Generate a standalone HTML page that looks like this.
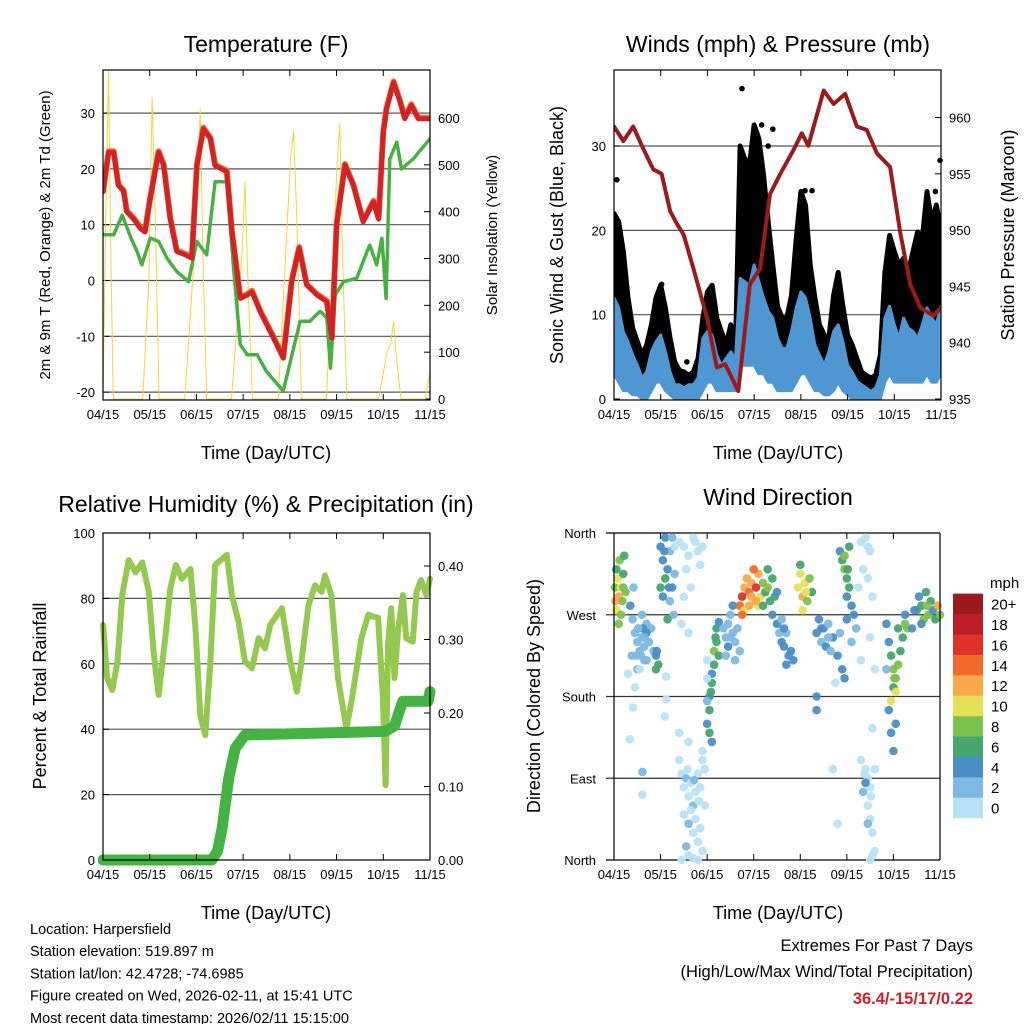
<!DOCTYPE html>
<html><head><meta charset="utf-8"><style>
body{margin:0;background:#fff;}
svg{display:block;font-family:"Liberation Sans",Arial,sans-serif;}
</style></head><body>
<svg id="c" width="1024" height="1024" viewBox="0 0 1024 1024" xmlns="http://www.w3.org/2000/svg">
<defs>
<clipPath id="cp1"><rect x="103" y="70" width="327" height="330"/></clipPath>
<clipPath id="cp2"><rect x="614" y="70" width="327" height="330"/></clipPath>
<clipPath id="cp3"><rect x="98" y="533" width="338" height="334"/></clipPath>
</defs>
</svg>
<script>
// ---------- DATA ----------
const monthLabels = ["04/15","05/15","06/15","07/15","08/15","09/15","10/15","11/15"];
// Temperature (F)
const tempT = [0,0.12,0.23,0.33,0.44,0.51,0.66,0.8,0.9,1.01,1.19,1.3,1.44,1.58,1.76,1.9,2.01,2.15,2.3,2.4,2.65,2.76,2.94,3.09,3.19,3.36,3.65,3.86,4.04,4.2,4.36,4.58,4.79,4.9,5.0,5.18,5.36,5.57,5.79,5.9,6.0,6.07,6.22,6.36,6.46,6.6,6.75,7];
const tempV = [15.9,23,23,17,16,12.3,11,9.3,8.7,14.7,23,20.6,11,5.2,4.6,4,20.6,27.2,25.4,20.6,19.5,8.7,-3.2,-2.6,-2,-5.5,-10.3,-13.9,-0.2,5.8,-0.8,-2.6,-3.8,-10.3,10,20.7,17,10.5,14.1,11,26.6,30.8,35.5,32,29,31.4,29,29];
const tdT = [0,0.23,0.41,0.6,0.73,0.83,1.01,1.19,1.37,1.58,1.83,2.01,2.22,2.4,2.65,2.79,2.94,3.09,3.3,3.5,3.86,4.08,4.22,4.43,4.65,4.79,4.87,4.97,5.15,5.43,5.71,5.86,5.97,6.06,6.14,6.29,6.39,6.64,7];
const tdV = [8.2,8.2,11.7,7.6,5.2,2.8,7.6,7,4,1.6,-0.2,7,4.6,17.7,17.7,2.8,-11.5,-13.3,-13.3,-16.3,-19.8,-12.1,-7.3,-7.3,-5.5,-6.7,-15.7,-2.6,-0.2,0.4,6.4,2.8,7.6,-3.2,21.8,24.8,20,21.8,25.4];
const solarT = [0,0.06,0.12,0.17,0.22,0.3,0.85,0.98,1.05,1.12,1.2,1.75,1.95,2.03,2.08,2.14,2.22,2.75,2.9,2.98,3.04,3.1,3.2,3.75,3.93,4.02,4.08,4.15,4.25,4.78,4.93,5.01,5.07,5.13,5.22,5.9,6.08,6.16,6.22,6.28,6.38,6.9,7];
const solarV = [0,400,700,300,0,0,0,250,642,380,0,0,300,450,620,300,0,0,200,320,464,260,0,0,350,520,571,380,0,0,300,500,588,300,0,0,100,120,165,90,0,0,60];
// Winds (mph) & pressure (mb)
const windT = [0,0.1,0.2,0.3,0.4,0.5,0.6,0.7,0.8,0.9,1.0,1.1,1.2,1.3,1.4,1.5,1.6,1.7,1.8,1.9,2.0,2.1,2.2,2.3,2.4,2.5,2.6,2.7,2.8,2.9,3.0,3.1,3.2,3.3,3.4,3.5,3.6,3.7,3.8,3.9,4.0,4.1,4.2,4.3,4.4,4.5,4.6,4.7,4.8,4.9,5.0,5.1,5.2,5.3,5.4,5.5,5.6,5.7,5.8,5.9,6.0,6.1,6.2,6.3,6.4,6.5,6.6,6.7,6.8,6.9,7.0];
const gustV = [22,21,17.5,12,8.4,6.8,5.2,6.4,8.8,12,13.5,10.8,7.2,4.4,3.4,3.2,2.8,3.2,4.8,9.6,12.7,13.5,9.6,8,6.4,8.8,6,30,28.5,27.7,32.5,30.9,26.6,21,15.9,11,9.6,9.6,12.3,19,24.6,23,15.9,12,8.8,7.6,7.2,12.3,15,11,7.6,6.4,4.8,3.2,2.8,2.5,2.8,5.2,15,19.4,17.5,15.9,16.7,15,17.5,19.8,19,24.6,21,23,20];
const windV = [12,10.8,8,6.8,5.2,4,2.5,3.2,5.6,6.8,7.6,5.6,3.2,1.7,1.7,1.3,1.7,1.7,2.5,7.2,8,7.6,5.2,4,4.8,5.6,4.8,14.3,13.9,13.5,15.9,13.9,12,10.4,9.6,7.2,6,6,8,10.8,12.7,12,9.6,6.4,5.2,4,5.6,8,8.8,6.8,4,3.2,2.1,1.7,1.3,0.9,1.3,2.8,9.6,11,8.8,7.2,9.6,8.4,8,7.2,8.8,10.8,9.6,8.8,11];
const windLowV = [3,2,1,1,0.5,0.5,0,0,1,2,2,1,0.5,0,0,0,0,0,0,1,2,2,1,1,1,1,1,4,4,4,4,3,3,2,2,1,1,1,1,2,3,3,2,1,1,0.5,0.5,1,2,1,0.5,0,0,0,0,0,0,0,2,3,2,2,2,2,2,2,2,3,2,2,3];
const gustOutT = [0.06,2.74,3.16,4.09,4.24,6.88,6.98,1.02,1.56,3.4,3.3];
const gustOutV = [26,36.8,32.5,24.7,24.7,24.6,28.3,13.6,4.4,32,30];
const presT = [0,0.2,0.41,0.63,0.84,1.02,1.2,1.34,1.49,1.7,1.99,2.2,2.38,2.66,2.91,3.13,3.34,3.56,3.84,4.02,4.16,4.49,4.7,4.95,5.2,5.41,5.63,5.91,6.13,6.34,6.56,6.84,7];
const presV = [959.2,957.9,959.2,957.2,955.4,955.0,951.7,950.6,949.6,946.6,942.2,937.8,938.1,935.7,945.2,946.6,953.2,955.0,957.1,958.6,957.5,962.4,961.2,962.1,959.2,958.9,956.8,955.6,949.7,945.2,943.1,942.4,943.1];
// Relative humidity & precip
const rhT = [0,0.09,0.2,0.31,0.41,0.55,0.7,0.84,0.98,1.09,1.19,1.34,1.44,1.56,1.69,1.87,1.98,2.08,2.19,2.3,2.4,2.65,2.76,2.9,3.04,3.19,3.33,3.47,3.58,3.83,4.01,4.15,4.25,4.4,4.54,4.68,4.75,4.89,5.03,5.21,5.32,5.53,5.68,5.89,5.99,6.05,6.1,6.17,6.24,6.32,6.42,6.49,6.63,6.71,6.81,6.92,7];
const rhV = [71.9,55.6,52,60.7,81,91.7,88,91,82,62.7,50.5,68.8,83,90.2,86,89,70.8,44.3,38.2,60.7,90.2,93.3,81,72.9,60.7,58.6,67.8,64.7,71.9,77,60.7,51.5,60.7,78,84,82,87,81,55.6,40.3,48.4,67.8,75,74,50.5,22.9,65.7,77,55.6,70.8,81,67.8,66.8,82,85.6,81,86];
const prT = [0,2.33,2.45,2.55,2.69,2.83,3.04,4.18,6.03,6.24,6.33,6.42,6.96,7];
const prV = [0,0,0.012,0.043,0.111,0.152,0.170,0.172,0.175,0.182,0.20,0.216,0.216,0.229];
// Wind direction: [time(months), direction(deg), speed(mph)]
const dirPts = [
[0.02,300,8],[0.05,320,6],[0.08,310,10],[0.1,290,12],[0.12,330,8],[0.15,300,10],[0.18,285,8],[0.2,315,6],[0.22,335,6],[0.25,295,8],[0.05,275,10],[0.15,270,8],[0.1,260,8],[0.03,285,12],[0.2,300,8],
[0.35,280,4],[0.4,265,3],[0.45,250,2],[0.5,240,2],[0.55,230,3],[0.6,245,2],[0.65,235,2],[0.7,220,2],[0.75,240,3],[0.8,255,2],[0.85,230,2],[0.9,225,4],[0.95,215,6],[0.42,300,2],[0.6,270,2],[0.7,260,3],[0.5,210,2],[0.38,225,2],[0.34,133,0],[0.41,168,1],[0.61,97,2],[0.61,72,1],[0.45,190,0],[0.3,205,1],[0.62,255,4],[0.55,210,1],[0.7,250,4],[0.48,225,2],[0.52,255,3],[0.65,220,2],[0.58,225,2],[0.66,245,3],[0.9,210,6],[0.92,230,4],
[1.0,345,4],[1.05,330,4],[1.1,355,4],[1.1,310,6],[1.15,320,4],[1.2,340,2],[1.25,300,4],[1.3,315,2],[1.0,300,6],[1.05,290,4],[1.2,285,2],[1.28,270,2],[1.15,265,6],[1.25,355,2],[1.3,345,0],[1.08,340,4],[1.18,300,4],[1.12,202,1],[1.12,177,1],[1.09,158,0],[1.4,140,0],
[1.4,350,0],[1.5,345,0],[1.6,335,0],[1.7,355,0],[1.8,340,0],[1.85,325,0],[1.55,320,1],[1.65,300,1],[1.5,290,1],[1.45,260,0],[1.6,250,0],[1.75,350,0],[1.9,345,0],
[1.4,110,1],[1.45,95,0],[1.5,80,1],[1.55,90,2],[1.6,70,0],[1.65,85,0],[1.7,60,2],[1.75,75,0],[1.8,95,0],[1.85,80,1],[1.9,110,0],[1.95,100,0],[1.5,50,0],[1.6,40,2],[1.7,30,0],[1.75,45,0],[1.8,20,0],[1.85,35,0],[1.9,10,0],[1.6,5,0],[1.7,2,0],[1.8,0,0],[1.55,15,2],[1.45,0,0],[1.95,60,0],[1.9,120,0],[1.6,130,0],[1.65,55,0],[1.72,88,2],[1.82,65,0],[1.58,100,0],
[2.0,150,4],[2.05,165,6],[2.05,180,4],[2.1,195,6],[2.1,205,4],[2.15,215,6],[2.15,230,8],[2.2,240,6],[2.2,255,6],[2.25,262,4],[2.0,175,2],[2.0,200,1],[2.05,140,6],[2.1,130,4],[2.0,220,0],[2.25,225,6],[2.08,185,6],[2.18,245,6],
[2.35,255,2],[2.4,245,2],[2.45,260,2],[2.5,270,2],[2.55,250,2],[2.6,240,2],[2.65,255,2],[2.7,230,2],[2.45,235,4],[2.55,280,4],[2.4,225,2],[2.6,220,2],[2.5,245,2],
[2.7,280,14],[2.75,290,16],[2.8,300,12],[2.85,310,12],[2.9,295,14],[2.95,305,12],[3.0,285,10],[3.05,300,16],[3.1,315,12],[3.15,290,10],[3.2,305,8],[3.25,295,6],[3.3,300,8],[3.35,285,6],[3.4,310,6],[3.45,290,6],[3.1,280,10],[2.8,275,10],[3.0,320,14],[2.9,280,12],[3.3,320,6],[3.2,280,6],[3.4,270,4],[3.5,295,4],[2.75,270,14],[2.95,290,12],[3.05,285,12],
[3.5,260,4],[3.55,250,2],[3.6,240,4],[3.65,235,4],[3.7,250,2],[3.75,225,4],[3.8,230,4],[3.85,220,4],[3.6,265,2],[3.7,215,4],[3.65,255,4],
[3.95,300,10],[4.0,315,10],[4.05,290,12],[4.1,305,10],[4.15,285,8],[4.2,310,8],[4.25,295,6],[4.05,275,10],[4.0,325,6],[4.12,295,10],
[4.35,250,4],[4.4,265,4],[4.45,240,2],[4.5,255,4],[4.55,235,4],[4.6,260,2],[4.65,230,2],[4.7,245,4],[4.8,225,4],[4.9,210,4],[4.95,200,4],[4.35,180,4],[4.35,165,4],[4.85,250,2],[4.75,195,1],[4.7,100,1],[4.8,40,1],[4.45,255,4],[4.6,245,2],
[4.85,340,4],[4.9,330,6],[4.95,320,8],[5.0,310,6],[5.05,300,6],[5.0,290,4],[5.1,280,4],[5.15,270,4],[5.05,345,6],[4.95,335,8],[5.0,265,4],[5.2,255,2],[5.1,240,2],[5.02,320,6],
[5.3,350,0],[5.4,355,0],[5.5,340,0],[5.35,320,0],[5.45,310,1],[5.25,300,1],[5.55,290,0],[5.3,220,0],[5.5,245,0],[5.6,210,0],[5.55,145,0],[5.45,345,0],
[5.3,110,1],[5.4,100,0],[5.45,90,1],[5.5,80,0],[5.35,75,2],[5.45,60,0],[5.5,45,0],[5.55,30,0],[5.6,10,0],[5.5,0,0],[5.55,5,0],[5.4,85,4],[5.45,40,2],[5.6,100,0],[5.38,95,0],[5.52,70,0],
[5.85,260,4],[5.9,240,4],[5.95,225,6],[6.0,210,8],[6.05,200,8],[6.1,215,8],[6.15,230,6],[6.2,245,6],[6.25,260,8],[6.0,190,6],[5.95,175,10],[6.05,185,10],[5.9,165,4],[5.95,140,4],[6.0,120,4],[6.05,150,4],[5.85,210,2],[6.1,255,6],[6.25,270,4],[6.3,255,8],[6.02,200,8],
[6.5,275,6],[6.55,290,4],[6.6,280,6],[6.65,265,8],[6.7,295,6],[6.75,270,8],[6.8,285,6],[6.85,275,4],[6.9,265,6],[6.95,280,12],[7.0,270,8],[6.6,260,4],[6.4,255,4],[6.45,275,4],[6.72,280,8]
];
const speedColors = ["#b9e1f6","#7db9e3","#4a8ec6","#47a56e","#7dc24d","#e6e258","#f9a94a","#f26a2a","#df3229","#bd1f28","#9b1a1d"];
const speedLabels = ["0","2","4","6","8","10","12","14","16","18","20+"];

// ---------- HELPERS ----------
const NS = "http://www.w3.org/2000/svg";
const svg = document.getElementById("c");
function mk(tag, attrs, parent){ const e=document.createElementNS(NS,tag); for(const k in attrs) e.setAttribute(k,attrs[k]); (parent||svg).appendChild(e); return e; }
function txt(x,y,s,size,anchor,extra){ const e=mk("text",Object.assign({x:x,y:y,"font-size":size,"text-anchor":anchor||"middle",fill:"#000"},extra||{})); e.textContent=s; return e; }
function xScale(p,t){ return p.x0 + t/7*(p.x1-p.x0); }

const P1={x0:103,x1:430,y0:70,y1:400,yl:v=>280.5-v*5.58,yr:v=>399-v*0.4683};
const P2={x0:614,x1:941,y0:70,y1:400,yl:v=>399-v*8.433,yr:p=>399-(p-935)*11.26};
const P3={x0:103,x1:430,y0:533,y1:860,yl:v=>860-v*3.27,yr:p=>860-p*735};
const P4={x0:614,x1:940,y0:533,y1:860,yl:d=>860-d*327/360};

function frameAndX(p,name){
  const g=mk("g",{});
  
  
  monthLabels.forEach((m,i)=>{
    const x=xScale(p,i);
    mk("line",{x1:x,x2:x,y1:p.y1,y2:p.y1-6,stroke:"#000","stroke-width":1},g);
    mk("line",{x1:x,x2:x,y1:p.y0,y2:p.y0+6,stroke:"#000","stroke-width":1},g);
    const t=txt(x,p.y1+19,m,13,"middle",{});
    
    
  });
  return g;
}
function border(p){
  const r=mk("rect",{x:p.x0,y:p.y0,width:p.x1-p.x0,height:p.y1-p.y0,fill:"none",stroke:"#000","stroke-width":1.2});
  
  
}
function hgrid(p,y){ mk("line",{x1:p.x0,x2:p.x1,y1:y,y2:y,stroke:"#555","stroke-width":1.2}); }
function poly(p,ts,vs,fy,attrs){
  const pts=ts.map((t,i)=>xScale(p,t).toFixed(1)+","+fy(vs[i]).toFixed(1)).join(" ");
  return mk("polyline",Object.assign({points:pts,fill:"none","stroke-linejoin":"round","stroke-linecap":"round"},attrs));
}
function ytick(x,y,label,side){
  const t=txt(side==="l"?x-8:x+8,y+5,label,13,side==="l"?"end":"start");
  
  
  mk("line",{x1:x,x2:side==="l"?x+6:x-6,y1:y,y2:y,stroke:"#000"});
}

// ---------- PANEL 1: Temperature ----------
[-20,-10,0,10,20,30].forEach(v=>{ hgrid(P1,P1.yl(v)); ytick(P1.x0,P1.yl(v),String(v),"l"); });
[0,100,200,300,400,500,600].forEach(v=>ytick(P1.x1,P1.yr(v),String(v),"r"));
const solar=poly(P1,solarT,solarV,P1.yr,{stroke:"#f7d43a","stroke-width":1,"clip-path":"url(#cp1)"});


const orange=poly(P1,tempT,tempV,v=>P1.yl(v)-1,{stroke:"#f07a2a","stroke-width":6,"clip-path":"url(#cp1)"});


const td=poly(P1,tdT,tdV,P1.yl,{stroke:"#46b040","stroke-width":3.5,"stroke-dasharray":"3 1.5","clip-path":"url(#cp1)"});


const red=poly(P1,tempT,tempV,P1.yl,{stroke:"#d42127","stroke-width":5,"clip-path":"url(#cp1)"});


border(P1); frameAndX(P1,"temperature");
txt(266,52,"Temperature (F)",23);
txt(266,459,"Time (Day/UTC)",18);
txt(50,235,"2m & 9m T (Red, Orange) & 2m Td (Green)",15,"middle",{transform:"rotate(-90 50 235)"});
txt(497,235,"Solar Insolation (Yellow)",15,"middle",{transform:"rotate(-90 497 235)"});

// ---------- PANEL 2: Winds ----------
[10,20,30].forEach(v=>hgrid(P2,P2.yl(v)));
[0,10,20,30].forEach(v=>ytick(P2.x0,P2.yl(v),String(v),"l"));
[935,940,945,950,955,960].forEach(v=>ytick(P2.x1,P2.yr(v),String(v),"r"));
(function(){
  const top=windT.map((t,i)=>xScale(P2,t).toFixed(1)+","+P2.yl(gustV[i]).toFixed(1));
  const bot=windT.map((t,i)=>xScale(P2,t).toFixed(1)+","+P2.yl(windLowV[i]+1).toFixed(1)).reverse();
  const g=mk("polygon",{points:top.concat(bot).join(" "),fill:"#000",stroke:"#000","stroke-width":5,"stroke-linejoin":"round","clip-path":"url(#cp2)"});
  
  
  gustOutT.forEach((t,i)=>{
    const c=mk("circle",{cx:xScale(P2,t),cy:P2.yl(gustOutV[i]),r:2.8,fill:"#000"});
    
    
  });
  const top2=windT.map((t,i)=>xScale(P2,t).toFixed(1)+","+P2.yl(windV[i]).toFixed(1));
  const bot2=windT.map((t,i)=>xScale(P2,t).toFixed(1)+","+P2.yl(windLowV[i]).toFixed(1)).reverse();
  const b=mk("polygon",{points:top2.concat(bot2).join(" "),fill:"#4f97d3",stroke:"#4f97d3","stroke-width":3,"stroke-linejoin":"round","clip-path":"url(#cp2)"});
  
  
})();
const pres=poly(P2,presT,presV,P2.yr,{stroke:"#9c1a1c","stroke-width":4,"clip-path":"url(#cp2)"});


border(P2); frameAndX(P2,"winds");
txt(778,52,"Winds (mph) & Pressure (mb)",23);
txt(778,459,"Time (Day/UTC)",18);
txt(563,235,"Sonic Wind & Gust (Blue, Black)",18,"middle",{transform:"rotate(-90 563 235)"});
txt(1014,235,"Station Pressure (Maroon)",18,"middle",{transform:"rotate(-90 1014 235)"});

// ---------- PANEL 3: RH & Precip ----------
[20,40,60,80].forEach(v=>hgrid(P3,P3.yl(v)));
[0,20,40,60,80,100].forEach(v=>ytick(P3.x0,P3.yl(v),String(v),"l"));
[0,0.1,0.2,0.3,0.4].forEach(v=>ytick(P3.x1,P3.yr(v),v.toFixed(2),"r"));
const rh=poly(P3,rhT,rhV,P3.yl,{stroke:"#93c94f","stroke-width":6,"clip-path":"url(#cp3)"});


const pr=poly(P3,prT,prV,P3.yr,{stroke:"#44b344","stroke-width":11,"clip-path":"url(#cp3)"});


border(P3); frameAndX(P3,"humidity");
txt(266,512,"Relative Humidity (%) & Precipitation (in)",23);
txt(266,919,"Time (Day/UTC)",18);
txt(46,696,"Percent & Total Rainfall",18,"middle",{transform:"rotate(-90 46 696)"});

// ---------- PANEL 4: Wind direction ----------
[90,180,270].forEach(d=>mk("line",{x1:606,x2:P4.x1,y1:P4.yl(d),y2:P4.yl(d),stroke:"#333","stroke-width":1.2}));
mk("line",{x1:606,x2:P4.x1,y1:P4.y0,y2:P4.y0,stroke:"#000","stroke-width":1.2});
mk("line",{x1:606,x2:P4.x1,y1:P4.y1,y2:P4.y1,stroke:"#000","stroke-width":1.2});
[[360,"North"],[270,"West"],[180,"South"],[90,"East"],[0,"North"]].forEach(d=>{
  const t=txt(596,P4.yl(d[0])+5,d[1],13,"end");
  
  
});
dirPts.forEach(p=>{
  const c=mk("circle",{cx:xScale(P4,p[0]),cy:P4.yl(p[1]),r:4.3,fill:speedColors[Math.min(10,Math.floor(p[2]/2))],"fill-opacity":0.95});
  
  
});
mk("line",{x1:P4.x0,x2:P4.x0,y1:P4.y0,y2:P4.y1,stroke:"#000","stroke-width":1.2});
mk("line",{x1:P4.x1,x2:P4.x1,y1:P4.y0,y2:P4.y1,stroke:"#000","stroke-width":1.2});
frameAndX(P4,"direction");
txt(778,505,"Wind Direction",23);
txt(778,919,"Time (Day/UTC)",18);
txt(540,696,"Direction (Colored By Speed)",18,"middle",{transform:"rotate(-90 540 696)"});
// colorbar
speedColors.forEach((c,i)=>{
  const y=797.6-i*20.4;
  const r=mk("rect",{x:953,y:y,width:30,height:20.6,fill:c});
  
  
  const t=txt(991,y+16,speedLabels[i],15,"start");
  
  
});
txt(990,588,"mph",15,"start");

// ---------- FOOTER ----------
["Location: Harpersfield","Station elevation: 519.897 m","Station lat/lon: 42.4728; -74.6985","Figure created on Wed, 2026-02-11, at 15:41 UTC","Most recent data timestamp: 2026/02/11 15:15:00"].forEach((s,i)=>{
  const t=txt(30,934+i*22.2,s,14.5,"start");
  
  
});
txt(973,951,"Extremes For Past 7 Days",16.5,"end");
txt(973,977,"(High/Low/Max Wind/Total Precipitation)",16.5,"end");
txt(973,1004,"36.4/-15/17/0.22",16.5,"end",{fill:"#d42127","font-weight":"bold"});
</script>
</body></html>
